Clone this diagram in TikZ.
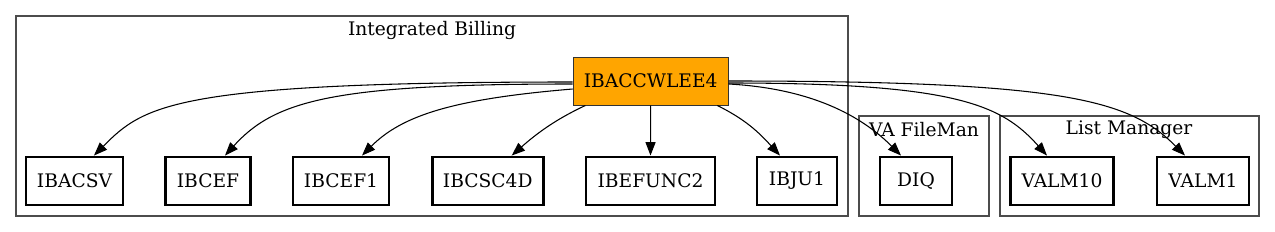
\documentclass[tikz,border=0pt]{standalone}
\usepackage{fontspec}
\setmainfont{DejaVu Serif}
\usetikzlibrary{arrows.meta, positioning}
\definecolor{gvorange}{HTML}{FFA500}

\begin{document}
\begin{tikzpicture}[x=0.75pt, y=-0.75pt, font=\fontsize{14pt}{17pt}\selectfont,
    leaf/.style={draw, line width=2.2pt, minimum height=36pt, inner sep=0pt},
    cluster/.style={draw=black!70, line width=0.8pt},
    dep/.style={-{Triangle[length=10pt, width=7.5pt]}, line width=0.8pt}]
    \useasboundingbox (0,0) rectangle (1275,232);

    % Clusters
    \draw[cluster] (16,16) rectangle (848,216);
    \draw[cluster] (859,116) rectangle (989,216);
    \draw[cluster] (1000,116) rectangle (1259,216);
    \node (lblib) at (432,30) {Integrated Billing};
    \node (lblfm) at (924,130) {VA FileMan};
    \node (lbllm) at (1129,130) {List Manager};

    % Routines
    \node[draw=black!80, fill=gvorange, line width=0.75pt, minimum width=116.25pt,
          minimum height=36pt, inner sep=0pt] (main) at (650.7,81) {IBACCWLEE4};
    \foreach \n/\t/\x/\w in {
        ibacsv/IBACSV/74.5/72.75,
        ibcef/IBCEF/208/63.75,
        ibcefi/IBCEF1/341/72,
        ibcsc/IBCSC4D/487.7/83.25,
        ibefunc/IBEFUNC2/650.5/96.75,
        ibju/IBJU1/797/60,
        diq/DIQ/916/54,
        valmx/VALM10/1062/77.25,
        valmi/VALM1/1203/69
    } {
        \node[leaf, minimum width=\w pt] (\n) at (\x,181) {\t};
    }

    % Calls
    \draw[dep] ([yshift=-0.75pt]main.west) .. controls +(-400,0) and +(50,-50) .. ([xshift=14.6pt]ibacsv.north);
    \draw[dep] ([yshift=-2.25pt]main.west) .. controls +(-240,0) and +(50,-55) .. ([xshift=12.75pt]ibcef.north);
    \draw[dep] ([yshift=-6pt]main.west) .. controls +(-120,10) and +(40,-40) .. ([xshift=15.75pt]ibcefi.north);
    \draw[dep] ([xshift=-49pt]main.south) .. controls +(-30,14) and +(25,-22) .. ([xshift=18pt]ibcsc.north);
    \draw[dep] (main.south) -- (ibefunc.north);
    \draw[dep] ([xshift=50pt]main.south) .. controls +(28,14) and +(-22,-24) .. ([xshift=-12.75pt]ibju.north);
    \draw[dep] ([yshift=-2.25pt]main.east) .. controls +(90,5) and +(-35,-35) .. ([xshift=-11.25pt]diq.north);
    \draw[dep] ([yshift=-1.5pt]main.east) .. controls +(230,0) and +(-45,-50) .. ([xshift=-11.25pt]valmx.north);
    \draw[dep] (main.east) .. controls +(340,0) and +(-55,-55) .. ([xshift=-13.5pt]valmi.north);
\end{tikzpicture}
\end{document}
